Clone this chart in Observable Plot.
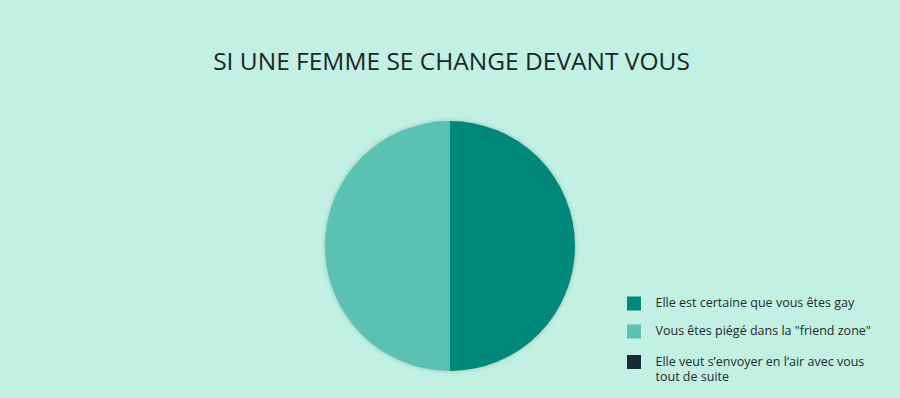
<!DOCTYPE html>
<html>
<head>
<meta charset="utf-8">
<script src="https://cdn.jsdelivr.net/npm/d3@7"></script>
<script src="https://cdn.jsdelivr.net/npm/@observablehq/plot@0.6"></script>
<style>
  html, body { margin: 0; padding: 0; background: #c2f0e2; }
  #chart { width: 900px; height: 398px; }
</style>
</head>
<body>
<div id="chart"></div>
<script>
// ---- data ----
const title = "SI UNE FEMME SE CHANGE DEVANT VOUS";
const categories = [
  "Elle est certaine que vous êtes gay",
  "Vous êtes piégé dans la \"friend zone\"",
  "Elle veut s’envoyer en l’air avec vous\ntout de suite"
];
const shares = [50, 50, 0];
const colors = ["#00897b", "#5bc1b2", "#182b38"];

// ---- layout constants ----
const W = 900, H = 398;
const pieCx = 450, pieCy = 246, pieR = 125;
const legendSwatchX = 627, legendSwatchSize = 14, legendTextX = 655;
const legendY = [296.5, 324.5, 355]; // top of each swatch

const data = categories.map((label, i) => ({label, share: shares[i]}));

const pieMark = (index, scales) => {
  const arcs = d3.pie().sort(null).value(d => d.share)(data);
  const arc = d3.arc().innerRadius(0).outerRadius(pieR);
  const g = d3.create("svg:g")
    .attr("transform", `translate(${scales.x(pieCx)},${scales.y(pieCy)})`)
    .style("filter", "drop-shadow(0px 0px 2px rgba(0,60,50,0.25))");
  g.selectAll("path")
    .data(arcs.filter(a => a.endAngle > a.startAngle))
    .join("path")
    .attr("d", arc)
    .attr("fill", d => scales.color(d.data.label));
  return g.node();
};

const chart = Plot.plot({
  width: W,
  height: H,
  margin: 0,
  x: {domain: [0, W], range: [0, W], axis: null},
  y: {domain: [0, H], range: [0, H], axis: null},
  color: {domain: categories, range: colors},
  style: {background: "#c2f0e2", fontFamily: "'Open Sans', 'Noto Sans', sans-serif"},
  marks: [
    Plot.text([title], {
      x: W / 2 + 1, y: 62, text: d => d,
      fontSize: 24.5, fill: "#1a2626", textAnchor: "middle", lineAnchor: "middle"
    }),
    pieMark,
    Plot.rect(data, {
      x1: legendSwatchX, x2: legendSwatchX + legendSwatchSize,
      y1: (d, i) => legendY[i], y2: (d, i) => legendY[i] + legendSwatchSize,
      fill: "label"
    }),
    Plot.text(data, {
      x: legendTextX, y: (d, i) => legendY[i] - 1,
      text: "label", textAnchor: "start", lineAnchor: "top",
      lineHeight: 1.25, fontSize: 12.5, fill: "#1e2a2a"
    })
  ]
});
document.getElementById("chart").append(chart);
</script>
</body>
</html>
